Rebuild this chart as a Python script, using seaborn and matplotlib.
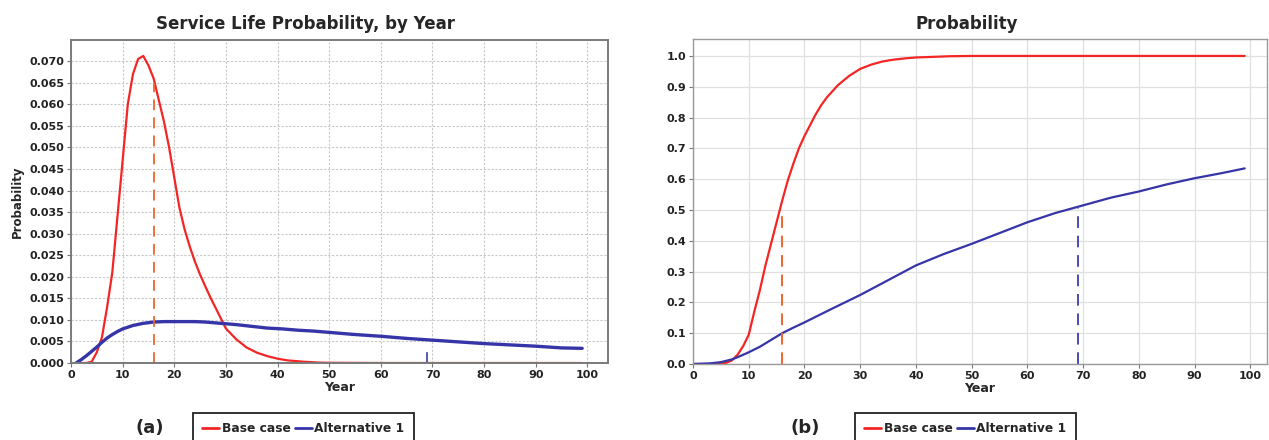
import matplotlib
matplotlib.use("Agg")
import matplotlib.pyplot as plt
import seaborn as sns
from matplotlib.ticker import FormatStrFormatter

# (a) probability density, by year
base_pdf_year = [1, 2, 3, 4, 5, 6, 7, 8, 9, 10, 11, 12, 13, 14, 15, 16, 17, 18, 19, 20,
                 21, 22, 23, 24, 25, 26, 27, 28, 30, 32, 34, 36, 38, 40, 42, 45, 48, 50,
                 60, 70, 80, 90, 99]
base_pdf = [0.0, 0.0, 0.0, 0.0003, 0.0025, 0.006, 0.013, 0.021, 0.034, 0.047, 0.060, 0.067,
            0.0705, 0.0712, 0.069, 0.066, 0.061, 0.056, 0.050, 0.043,
            0.036, 0.031, 0.027, 0.0235, 0.0205, 0.0178, 0.0152, 0.0128, 0.0080, 0.0055,
            0.0036, 0.0024, 0.0016, 0.0010, 0.0006, 0.0003, 0.0001, 0.00005,
            0.0, 0.0, 0.0, 0.0, 0.0]
alt_pdf_year = [1, 2, 3, 4, 5, 6, 7, 8, 9, 10, 12, 14, 16, 18, 20, 22, 24, 26, 28, 30, 32,
                35, 38, 41, 44, 47, 51, 55, 60, 65, 70, 75, 80, 85, 90, 95, 99]
alt_pdf = [0.0, 0.0008, 0.0017, 0.0027, 0.0037, 0.0048, 0.0058, 0.0066, 0.0073, 0.0079,
           0.0087, 0.0092, 0.0095, 0.0096, 0.0096, 0.0096, 0.0096, 0.0095, 0.0093, 0.0091,
           0.0089, 0.0085, 0.0081, 0.0079, 0.0076, 0.0074, 0.0070, 0.0066, 0.0062, 0.0057,
           0.0053, 0.0049, 0.0045, 0.0042, 0.0039, 0.0035, 0.0034]

# (b) cumulative probability
base_cdf_year = [0, 2, 4, 5, 6, 7, 8, 9, 10, 11, 12, 13, 14, 15, 16, 17, 18, 19, 20, 21, 22,
                 23, 24, 25, 26, 28, 30, 32, 34, 36, 38, 40, 43, 46, 50, 60, 70, 80, 90, 99]
base_cdf = [0.0, 0.0, 0.0, 0.001, 0.004, 0.012, 0.03, 0.058, 0.095, 0.17, 0.24, 0.32, 0.39,
            0.46, 0.53, 0.595, 0.65, 0.70, 0.74, 0.775, 0.81, 0.84, 0.865, 0.885, 0.905,
            0.935, 0.958, 0.972, 0.982, 0.988, 0.992, 0.995, 0.997, 0.999, 1.0, 1.0, 1.0,
            1.0, 1.0, 1.0]
alt_cdf_year = [0, 3, 5, 7, 8, 10, 12, 14, 16, 18, 20, 25, 30, 35, 40, 45, 50, 55, 60, 65,
                69, 75, 80, 85, 90, 95, 99]
alt_cdf = [0.0, 0.002, 0.006, 0.015, 0.022, 0.038, 0.056, 0.078, 0.10, 0.118, 0.135, 0.18,
           0.224, 0.272, 0.32, 0.357, 0.39, 0.425, 0.46, 0.49, 0.51, 0.54, 0.56, 0.583,
           0.603, 0.62, 0.635]

# median markers (year, height in each panel)
median_year = [16, 69]
median_top_pdf = [0.065, 0.0034]
median_top_cdf = [0.5, 0.51]

series = ["Base case", "Alternative 1"]
red = "#f42525"
blue = "#3535a8"
dash_col = ["#f0642e", "#4a4ab8"]

sns.set_theme(style="whitegrid")
plt.rcParams["font.family"] = ["DejaVu Sans"]

W, H = 1269, 440
fig = plt.figure(figsize=(W / 100, H / 100), dpi=100)
fig.patch.set_facecolor("white")


def box(l, t, r, b):
    return [l / W, 1 - b / H, (r - l) / W, (b - t) / H]


ax1 = fig.add_axes(box(71, 40, 608, 363))
ax2 = fig.add_axes(box(693, 39, 1267, 364))

# ---- panel (a)
sns.lineplot(x=base_pdf_year, y=base_pdf, ax=ax1, color=red, linewidth=1.6)
sns.lineplot(x=alt_pdf_year, y=alt_pdf, ax=ax1, color=blue, linewidth=2.4)
ax1.vlines(median_year[0], 0, median_top_pdf[0], colors=dash_col[0], linestyles=(0, (6, 4)), linewidth=1.3)
ax1.vlines(median_year[1], 0, median_top_pdf[1], colors=dash_col[1], linestyles=(0, (6, 4)), linewidth=1.3)
ax1.set_xlim(0, 104)
ax1.set_ylim(0, 0.0749)
ax1.set_xticks(range(0, 101, 10))
ax1.set_yticks([i * 0.005 for i in range(15)])
ax1.yaxis.set_major_formatter(FormatStrFormatter("%.3f"))
ax1.grid(True, color="#c8c8c8", linestyle=(0, (2, 1.5)), linewidth=0.8)
for s in ax1.spines.values():
    s.set_color("#7a7a7a")
    s.set_linewidth(1.4)
ax1.set_xlabel("Year", fontsize=9, fontweight="bold", labelpad=1)
ax1.set_ylabel("Probability", fontsize=8.5, fontweight="bold", labelpad=4)

# ---- panel (b)
sns.lineplot(x=base_cdf_year, y=base_cdf, ax=ax2, color=red, linewidth=1.6)
sns.lineplot(x=alt_cdf_year, y=alt_cdf, ax=ax2, color=blue, linewidth=1.6)
ax2.vlines(median_year[0], 0, median_top_cdf[0], colors=dash_col[0], linestyles=(0, (6, 4)), linewidth=1.4)
ax2.vlines(median_year[1], 0, median_top_cdf[1], colors=dash_col[1], linestyles=(0, (6, 4)), linewidth=1.4)
ax2.set_xlim(0, 103)
ax2.set_ylim(0, 1.055)
ax2.set_xticks(range(0, 101, 10))
ax2.set_yticks([i / 10 for i in range(11)])
ax2.yaxis.set_major_formatter(FormatStrFormatter("%.1f"))
ax2.grid(True, color="#e0e0e0", linestyle="-", linewidth=0.9)
for s in ax2.spines.values():
    s.set_color("#9a9a9a")
    s.set_linewidth(1.0)
ax2.set_xlabel("Year", fontsize=9, fontweight="bold", labelpad=1)
ax2.set_ylabel("")

for ax in (ax1, ax2):
    ax.set_facecolor("white")
    ax.tick_params(axis="both", which="major", length=3, width=0.8, color="#777777",
                   pad=2, labelsize=8, direction="out", bottom=True, left=True)
    for lab in ax.get_xticklabels() + ax.get_yticklabels():
        lab.set_fontweight("bold")
        lab.set_color("#222222")
    if ax.get_legend() is not None:
        ax.get_legend().remove()

# titles
fig.text(306 / W, 1 - 29 / H, "Service Life Probability, by Year", ha="center", va="baseline",
         fontsize=12, fontweight="bold")
fig.text(967 / W, 1 - 29 / H, "Probability", ha="center", va="baseline",
         fontsize=12, fontweight="bold")

# panel letters
fig.text(150 / W, 1 - 428 / H, "(a)", ha="center", va="center", fontsize=13, fontweight="bold")
fig.text(805 / W, 1 - 428 / H, "(b)", ha="center", va="center", fontsize=13, fontweight="bold")

# legends under each panel (bottom edge runs off the figure, as in the source)
handles = [plt.Line2D([], [], color=red, linewidth=2), plt.Line2D([], [], color=blue, linewidth=2)]
for x0 in (193, 855):
    leg = fig.legend(handles, series, loc="upper left", bbox_to_anchor=(x0 / W, 1 - 413 / H),
                     ncol=2, frameon=True, fancybox=False,
                     prop={"weight": "bold", "size": 8.8}, handlelength=1.4,
                     handletextpad=0.2, columnspacing=0.35, borderpad=0.75,
                     borderaxespad=0)
    leg.get_frame().set_edgecolor("#222222")
    leg.get_frame().set_linewidth(1.3)
    leg.get_frame().set_alpha(1)

fig.savefig("out.png", dpi=100)
